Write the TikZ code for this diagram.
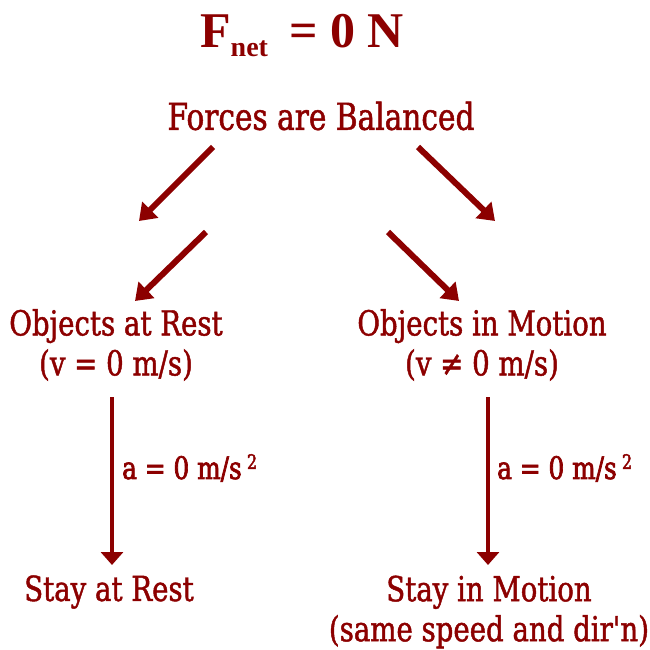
\documentclass[tikz,border=0pt]{standalone}
\usepackage{fontspec}
\setmainfont{DejaVu Serif}
\newfontfamily\slab[FakeStretch=0.8,FakeBold=1.3]{DejaVu Serif}
\newfontfamily\slabb[FakeStretch=0.8,FakeBold=2.2]{DejaVu Serif}
\newfontfamily\titlefont{Liberation Serif}
\usetikzlibrary{arrows.meta}
\definecolor{dred}{RGB}{140,0,0}
\begin{document}
\begin{tikzpicture}[x=1pt,y=-1pt,
  every node/.style={text=dred, inner sep=0pt},
  lbl/.style={font=\slab\fontsize{34.5}{40}\selectfont, align=center},
  albl/.style={font=\slabb\fontsize{31}{30}\selectfont, anchor=west},
  darrow/.style={draw=dred, line width=6pt, -{Triangle[length=16pt,width=22pt]}},
  varrow/.style={draw=dred, line width=4.5pt, -{Triangle[length=13pt,width=22pt]}}]
\useasboundingbox (0,0) rectangle (650,650);
\node[anchor=base west] (title) at (200,48)
  {\titlefont\bfseries\fontsize{50}{50}\selectfont F\raisebox{-9pt}{\fontsize{28}{28}\selectfont net}\hspace{21pt}= 0 N};
\node[lbl, font=\slab\fontsize{37}{40}\selectfont] (forces) at (321,116) {Forces are Balanced};
\node[lbl] (rest) at (116,345) {Objects at Rest\\(v = 0 m/s)};
\node[lbl] (motion) at (482,345) {Objects in Motion\\(v ≠ 0 m/s)};
\node[albl] (arest) at (122,468) {a = 0 m/s\,\raisebox{10pt}{\fontsize{20}{20}\selectfont 2}};
\node[albl] (amotion) at (497,468) {a = 0 m/s\,\raisebox{10pt}{\fontsize{20}{20}\selectfont 2}};
\node[lbl] (stayrest) at (109,592) {Stay at Rest};
\node[lbl] (staymotion) at (489,612) {Stay in Motion\\(same speed and dir'n)};
\coordinate (d1s) at (213,147); \coordinate (d1e) at (139,221);
\coordinate (d2s) at (418,147); \coordinate (d2e) at (495,221);
\coordinate (d3s) at (206,232); \coordinate (d3e) at (135,301);
\coordinate (d4s) at (388,232); \coordinate (d4e) at (459,301);
\coordinate (v1s) at (112,397); \coordinate (v1e) at (112,565);
\coordinate (v2s) at (488,397); \coordinate (v2e) at (488,565);
\draw[darrow] (d1s) -- (d1e);
\draw[darrow] (d2s) -- (d2e);
\draw[darrow] (d3s) -- (d3e);
\draw[darrow] (d4s) -- (d4e);
\draw[varrow] (v1s) -- (v1e);
\draw[varrow] (v2s) -- (v2e);
\end{tikzpicture}
\end{document}
